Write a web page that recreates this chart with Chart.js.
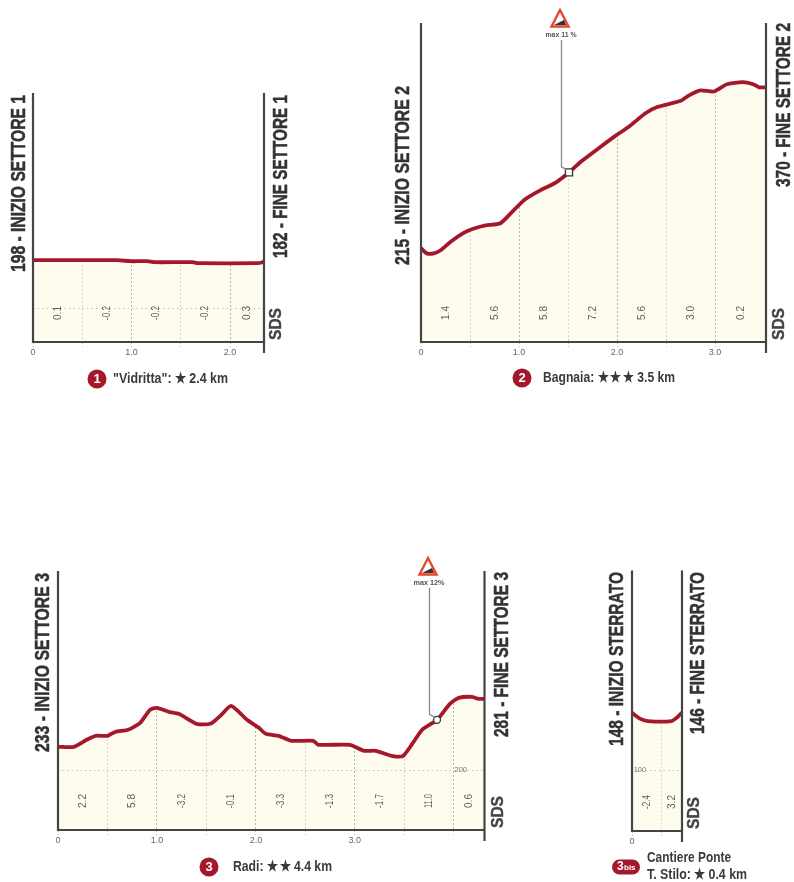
<!DOCTYPE html>
<html>
<head>
<meta charset="utf-8">
<style>
html, body { margin: 0; padding: 0; background: #fff; }
canvas { position: absolute; left: 0; top: 0; }
</style>
<script src="https://cdn.jsdelivr.net/npm/chart.js@4/dist/chart.umd.js"></script>
</head>
<body>
<canvas id="settore1" width="794" height="882"></canvas>
<canvas id="settore2" width="794" height="882"></canvas>
<canvas id="settore3" width="794" height="882"></canvas>
<canvas id="sterrato" width="794" height="882"></canvas>
<script>
// settore 1
var km1 = [0, 0.86, 0.99, 1.16, 1.23, 1.62, 1.67, 2.28, 2.33, 2.35];
var quota1 = [198, 198, 197, 197, 196, 196, 195, 195, 196, 197];
var griglia1 = [0, 0.5, 1, 1.5, 2];
var etichette1 = [0, 1, 2];
var pendenze1 = ['0.1', '-0.2', '-0.2', '-0.2', '0.3'];

// settore 2
var km2 = [0, 0.06, 0.13, 0.20, 0.30, 0.44, 0.54, 0.66, 0.81, 0.95, 1.06, 1.22, 1.37, 1.51, 1.64,
    1.85, 1.98, 2.12, 2.29, 2.41, 2.65, 2.73, 2.85, 2.99, 3.12, 3.28, 3.39, 3.45, 3.52];
var quota2 = [215, 210, 210, 213, 221, 230, 234, 237, 239, 252, 262, 271, 278, 288, 299,
    314, 323, 332, 345, 351, 357, 362, 367, 366, 373, 375, 373, 370, 370];
var griglia2 = [0, 0.5, 1, 1.5, 2, 2.5, 3];
var etichette2 = [0, 1, 2, 3];
var pendenze2 = ['1.4', '5.6', '5.8', '7.2', '5.6', '3.0', '0.2'];
var massima2 = { x: 1.51, y: 288 };

// settore 3
var km3 = [0, 0.16, 0.29, 0.38, 0.50, 0.58, 0.71, 0.83, 0.93, 1.00, 1.12, 1.22, 1.40, 1.54, 1.64, 1.75, 1.91, 2.03,
    2.10, 2.23, 2.36, 2.58, 2.63, 2.95, 3.09, 3.21, 3.37, 3.49, 3.68, 3.83, 3.96, 4.05, 4.18, 4.25, 4.31];
var quota3 = [233, 233, 240, 244, 244, 248, 250, 257, 270, 272, 268, 266, 256, 256, 264, 274, 260, 252,
    246, 244, 239, 239, 235, 235, 229, 229, 224, 224, 250, 260, 276, 282, 283, 281, 281];
var griglia3 = [0, 0.5, 1, 1.5, 2, 2.5, 3, 3.5, 4];
var etichette3 = [0, 1, 2, 3];
var pendenze3 = ['2.2', '5.8', '-3.2', '-0.1', '-3.3', '-1.3', '-1.7', '11.0', '0.6'];
var massima3 = { x: 3.83, y: 260 };

// sterrato
var km4 = [0, 0.08, 0.16, 0.40, 0.455, 0.505];
var quota4 = [148, 143, 141, 141, 144, 148];
var griglia4 = [0, 0.3];
var etichette4 = [0];
var pendenze4 = ['-2.4', '3.2'];

var ROSSO = '#a5182c';
var NERO = '#333333';
var FONT = '"Liberation Sans Narrow", "Liberation Sans", sans-serif';
var ALTEZZA_TICK = 16;

function testoV(ctx, testo, x, yc, size, lung, colore, peso, spessore) {
    ctx.save();
    ctx.translate(x, yc);
    ctx.rotate(-Math.PI / 2);
    ctx.font = (peso || 'bold') + ' ' + size + 'px ' + FONT;
    ctx.fillStyle = colore;
    ctx.textAlign = 'center';
    ctx.textBaseline = 'middle';
    ctx.fillText(testo, 0, 0, lung);
    if (spessore) {
        ctx.strokeStyle = colore;
        ctx.lineWidth = spessore;
        ctx.strokeText(testo, 0, 0, lung);
    }
    ctx.restore();
}

function testoO(ctx, testo, x, y, size, lung, colore, peso, align) {
    ctx.font = (peso || 'bold') + ' ' + size + 'px ' + FONT;
    ctx.fillStyle = colore;
    ctx.textAlign = align || 'left';
    ctx.textBaseline = 'middle';
    if (lung) ctx.fillText(testo, x, y, lung); else ctx.fillText(testo, x, y);
}

function segnaMassima(ctx, area, p, testo) {
    var cx = p.x - 9;
    var alto = area.top - 13, basso = area.top + 3.5;
    ctx.strokeStyle = '#e8452c';
    ctx.lineWidth = 2.4;
    ctx.lineJoin = 'miter';
    ctx.fillStyle = '#fff';
    ctx.beginPath();
    ctx.moveTo(cx, alto);
    ctx.lineTo(cx + 8.5, basso);
    ctx.lineTo(cx - 8.5, basso);
    ctx.closePath();
    ctx.fill();
    ctx.stroke();
    ctx.fillStyle = '#333';
    ctx.beginPath();
    ctx.moveTo(cx - 6, basso - 1.5);
    ctx.lineTo(cx + 6, basso - 1.5);
    ctx.lineTo(cx + 4, basso - 6.5);
    ctx.closePath();
    ctx.fill();
    testoO(ctx, testo, cx + 1, area.top + 12, 8, 31, '#555', 'bold', 'center');
    ctx.strokeStyle = '#8a8a8a';
    ctx.lineWidth = 1.3;
    ctx.beginPath();
    ctx.moveTo(p.x - 7.5, area.top + 17);
    ctx.lineTo(p.x - 7.5, p.y - 5.5);
    ctx.lineTo(p.x - 3, p.y - 3);
    ctx.stroke();
}

function disegnaProfilo(id, c) {
    var datasets = [];
    if (c.massima) {
        datasets.push({
            data: [c.massima], showLine: false, fill: false,
            pointStyle: c.puntoStile, pointRadius: c.puntoRaggio,
            pointBackgroundColor: '#fff', pointBorderColor: '#333', pointBorderWidth: 1.3
        });
    }
    datasets.push({
        data: c.km.map(function (k, i) { return { x: k, y: c.quota[i] }; }),
        borderColor: ROSSO, borderWidth: 3.8, tension: 0.2, pointRadius: 0,
        borderJoinStyle: 'round', borderCapStyle: 'butt',
        fill: 'end', backgroundColor: '#fff'
    });

    new Chart(document.getElementById(id), {
        type: 'line',
        data: { datasets: datasets },
        options: {
            responsive: false,
            animation: false,
            events: [],
            layout: { padding: { left: c.left, right: 794 - c.right, top: c.top, bottom: 882 - c.base - ALTEZZA_TICK } },
            plugins: { legend: { display: false }, tooltip: { enabled: false } },
            scales: {
                x: {
                    type: 'linear', min: 0, max: c.xMax,
                    afterBuildTicks: function (s) { s.ticks = c.griglia.map(function (v) { return { value: v }; }); },
                    afterFit: function (s) { s.height = ALTEZZA_TICK; },
                    border: { display: false, dash: [2, 2] },
                    grid: {
                        color: function (g) { return g.tick && Number.isInteger(g.tick.value) ? '#b4b4a8' : '#d4d4c8'; },
                        lineWidth: 1, tickLength: 5, drawTicks: true,
                        tickColor: '#c4c4ba', tickBorderDash: [2, 2]
                    },
                    ticks: {
                        autoSkip: false, maxRotation: 0, padding: 0, color: '#666',
                        font: { family: FONT, size: 9 },
                        callback: function (v) {
                            if (c.etichette.indexOf(v) < 0) return '';
                            return v === 0 ? '0' : v.toFixed(1);
                        }
                    }
                },
                y: {
                    min: c.yMin, max: c.yMax,
                    afterBuildTicks: function (s) { s.ticks = c.rif ? [{ value: c.rif }] : []; },
                    afterFit: function (s) { s.width = 0; },
                    border: { display: false, dash: [1.5, 3] },
                    grid: { color: '#c4c4b6', drawTicks: false },
                    ticks: { display: false }
                }
            }
        },
        plugins: [{
            id: 'decor',
            beforeDraw: function (chart) {
                var a = chart.chartArea, ctx = chart.ctx;
                ctx.fillStyle = '#fdfcef';
                ctx.fillRect(a.left, a.top, a.right - a.left, a.bottom - a.top);
            },
            afterDatasetsDraw: function (chart) {
                var a = chart.chartArea, ctx = chart.ctx;
                var sx = chart.scales.x, sy = chart.scales.y;
                ctx.save();

                // cornice
                ctx.strokeStyle = '#444';
                ctx.lineWidth = 2.2;
                ctx.beginPath();
                ctx.moveTo(a.left, a.top); ctx.lineTo(a.left, a.bottom + 1);
                ctx.moveTo(a.left, a.bottom); ctx.lineTo(a.right, a.bottom);
                ctx.moveTo(a.right, a.top); ctx.lineTo(a.right, a.bottom + 11);
                ctx.stroke();

                // pendenze
                var lim = c.griglia.concat([c.xMax]);
                c.pendenze.forEach(function (t, i) {
                    var mid = (lim[i] + lim[i + 1]) / 2;
                    testoV(ctx, t, sx.getPixelForValue(mid), a.bottom - 29, 11, 14, '#5c5c5c', 'normal');
                });

                if (c.rifTesto) {
                    testoO(ctx, c.rifTesto, sx.getPixelForValue(c.rifKm), sy.getPixelForValue(c.rif), 7.5, 13, '#777', 'normal', 'center');
                }

                // scritte laterali
                testoV(ctx, c.inizio, c.inizioX, c.inizioY, 21, c.inizioL, NERO, 'bold', 0.5);
                testoV(ctx, c.fine, c.fineX, c.fineY, 21, c.fineL, NERO, 'bold', 0.5);
                testoV(ctx, 'SDS', a.right + c.sdsDx, a.bottom - 18, 17, 32, '#444', 'bold', 0.4);

                if (c.massima) {
                    var p = { x: sx.getPixelForValue(c.massima.x), y: sy.getPixelForValue(c.massima.y) };
                    segnaMassima(ctx, a, p, c.massimaTesto);
                }

                // numero e nome del settore
                ctx.fillStyle = ROSSO;
                if (c.badgeW) {
                    ctx.beginPath();
                    ctx.roundRect(c.badgeX - c.badgeW / 2, c.captionY - 7.5, c.badgeW, 15, 7.5);
                    ctx.fill();
                    ctx.font = 'bold 12px ' + FONT;
                    ctx.fillStyle = '#fff';
                    ctx.textAlign = 'left';
                    ctx.textBaseline = 'middle';
                    ctx.fillText('3', c.badgeX - 9, c.captionY);
                    ctx.font = 'bold 8px ' + FONT;
                    ctx.fillText('bis', c.badgeX - 2, c.captionY + 1);
                } else {
                    ctx.beginPath();
                    ctx.arc(c.badgeX, c.captionY, 9.5, 0, Math.PI * 2);
                    ctx.fill();
                    testoO(ctx, c.numero, c.badgeX, c.captionY + 0.5, 13, 0, '#fff', 'bold', 'center');
                }
                c.caption.forEach(function (riga, i) {
                    testoO(ctx, riga, c.captionX, c.captionY + c.captionDy[i], 15, c.captionL[i], '#3a3a3a');
                });

                ctx.restore();
            }
        }]
    });
}

disegnaProfilo('settore1', {
    km: km1, quota: quota1, griglia: griglia1, etichette: etichette1, pendenze: pendenze1,
    left: 33, right: 264, top: 93, base: 342, xMax: 2.345, yMin: 116.3, yMax: 365, rif: 150,
    inizio: '198 - INIZIO SETTORE 1', inizioX: 19, inizioY: 183.5, inizioL: 177,
    fine: '182 - FINE SETTORE 1', fineX: 281, fineY: 176.5, fineL: 163, sdsDx: 12,
    numero: '1', badgeX: 97, captionX: 113, captionY: 379, captionDy: [0], captionL: [115],
    caption: ['"Vidritta": \u2605 2.4 km']
});

disegnaProfilo('settore2', {
    km: km2, quota: quota2, griglia: griglia2, etichette: etichette2, pendenze: pendenze2,
    left: 421, right: 766, top: 23, base: 342, xMax: 3.52, yMin: 124.6, yMax: 432,
    inizio: '215 - INIZIO SETTORE 2', inizioX: 403, inizioY: 175.5, inizioL: 179,
    fine: '370 - FINE SETTORE 2', fineX: 784, fineY: 105, fineL: 164, sdsDx: 13,
    massima: massima2, massimaTesto: 'max 11 %', puntoStile: 'rect', puntoRaggio: 5,
    numero: '2', badgeX: 522, captionX: 543, captionY: 378, captionDy: [0], captionL: [132],
    caption: ['Bagnaia: \u2605\u2009\u2605\u2009\u2605 3.5 km']
});

disegnaProfilo('settore3', {
    km: km3, quota: quota3, griglia: griglia3, etichette: etichette3, pendenze: pendenze3,
    left: 58, right: 484.5, top: 571, base: 830, xMax: 4.31, yMin: 149.7, yMax: 409,
    rif: 209.7, rifTesto: '200', rifKm: 4.07,
    inizio: '233 - INIZIO SETTORE 3', inizioX: 43, inizioY: 662.5, inizioL: 179,
    fine: '281 - FINE SETTORE 3', fineX: 502, fineY: 654.5, fineL: 165, sdsDx: 14,
    massima: massima3, massimaTesto: 'max 12%', puntoStile: 'circle', puntoRaggio: 3.5,
    numero: '3', badgeX: 209, captionX: 233, captionY: 867, captionDy: [0], captionL: [99],
    caption: ['Radi: \u2605\u2009\u2605 4.4 km']
});

disegnaProfilo('sterrato', {
    km: km4, quota: quota4, griglia: griglia4, etichette: etichette4, pendenze: pendenze4,
    left: 632, right: 682, top: 570.5, base: 831, xMax: 0.505, yMin: 49, yMax: 267,
    rif: 100, rifTesto: '100', rifKm: 0.08,
    inizio: '148 - INIZIO STERRATO', inizioX: 617.5, inizioY: 659, inizioL: 174,
    fine: '146 - FINE STERRATO', fineX: 698, fineY: 653, fineL: 162, sdsDx: 12,
    numero: '3', badgeX: 626, badgeW: 28, captionX: 647, captionY: 867, captionDy: [-9, 8], captionL: [84, 100],
    caption: ['Cantiere Ponte', 'T. Stilo: \u2605 0.4 km']
});
</script>
</body>
</html>
